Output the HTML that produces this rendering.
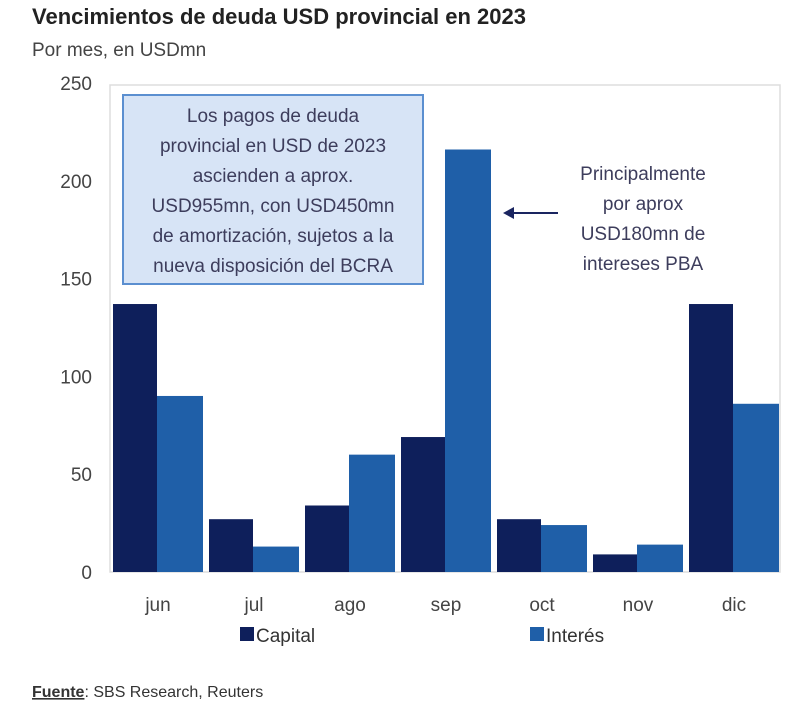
<!DOCTYPE html>
<html><head><meta charset="utf-8"><style>
body{margin:0;background:#fff;width:800px;height:711px;overflow:hidden;font-family:"Liberation Sans",sans-serif;}
svg{display:block}
</style></head><body>
<svg id="c" width="800" height="711">
<text x="32" y="24" font-size="22" font-weight="bold" fill="#222">Vencimientos de deuda USD provincial en 2023</text>
<text x="32" y="56" font-size="19" fill="#444">Por mes, en USDmn</text>
<rect x="110" y="85" width="670" height="487" fill="none" stroke="#ddd" stroke-width="1.5"/>
<g id="bars"></g>
<g id="yt"></g>
<g id="xt"></g>
<rect x="123" y="95" width="300" height="189" fill="#d7e4f6" stroke="#5b8fd0" stroke-width="2"/>
<g font-size="19" fill="#3d3d5c" text-anchor="middle">
<text x="273" y="122">Los pagos de deuda</text>
<text x="273" y="152">provincial en USD de 2023</text>
<text x="273" y="182">ascienden a aprox.</text>
<text x="273" y="212">USD955mn, con USD450mn</text>
<text x="273" y="242">de amortización, sujetos a la</text>
<text x="273" y="272">nueva disposición del BCRA</text>
</g>
<g font-size="19" fill="#3d3d5c" text-anchor="middle">
<text x="643" y="180">Principalmente</text>
<text x="643" y="210">por aprox</text>
<text x="643" y="240">USD180mn de</text>
<text x="643" y="270">intereses PBA</text>
</g>
<line x1="558" y1="213" x2="510" y2="213" stroke="#1a2560" stroke-width="2"/>
<polygon points="503,213 514,207 514,219" fill="#1a2560"/>
<rect x="240" y="627" width="14" height="14" fill="#0e1f5b"/>
<text x="256" y="642" font-size="19" fill="#333">Capital</text>
<rect x="530" y="627" width="14" height="14" fill="#1f5fa8"/>
<text x="546" y="642" font-size="19" fill="#333">Interés</text>
<text x="32" y="697" font-size="16" fill="#333"><tspan font-weight="bold" text-decoration="underline">Fuente</tspan>: SBS Research, Reuters</text>
</svg>
<script>
const categories=["jun","jul","ago","sep","oct","nov","dic"];
const capital=[137,27,34,69,27,9,137];
const interes=[90,13,60,216,24,14,86];
const yTicks=[0,50,100,150,200,250];
const NS="http://www.w3.org/2000/svg";
const y0=572,y1=83,yMax=250;
function y(v){return y0-(v/yMax)*(y0-y1);}
const left=110,step=96;
function xc(i){return left+step*(i+0.5);}
const bw=44;
const bars=document.getElementById('bars');
function mk(t,a){const e=document.createElementNS(NS,t);for(const k in a)e.setAttribute(k,a[k]);return e;}
categories.forEach((c,i)=>{
  const r1=mk('rect',{x:xc(i)-bw-1,y:y(capital[i]),width:bw,height:y0-y(capital[i]),fill:'#0e1f5b'});
  
  
  bars.appendChild(r1);
  const r2=mk('rect',{x:xc(i)-1,y:y(interes[i]),width:bw+2,height:y0-y(interes[i]),fill:'#1f5fa8'});
  
  
  bars.appendChild(r2);
  const t=mk('text',{x:xc(i),y:611,'font-size':19,fill:'#444','text-anchor':'middle'});
  t.textContent=c;
  
  
  document.getElementById('xt').appendChild(t);
});
yTicks.forEach(v=>{
  const t=mk('text',{x:92,y:y(v)+7,'font-size':19,fill:'#444','text-anchor':'end'});
  t.textContent=v;
  
  
  document.getElementById('yt').appendChild(t);
});
</script>
</body></html>
